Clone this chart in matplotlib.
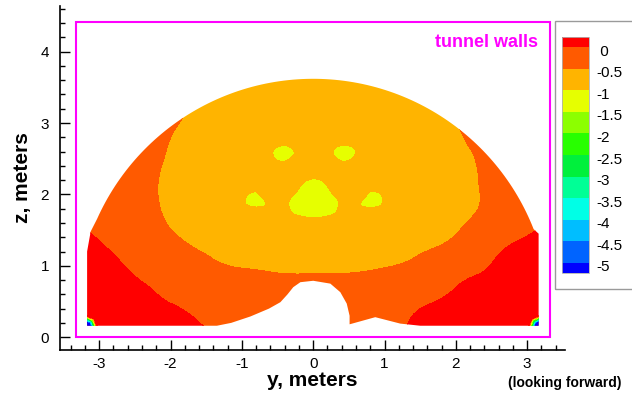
import numpy as np
import matplotlib
matplotlib.use("Agg")
import matplotlib.pyplot as plt
import matplotlib.tri as mtri
from matplotlib.patches import Polygon, Rectangle
from matplotlib.ticker import MultipleLocator
from matplotlib.transforms import ScaledTranslation

plt.rcParams.update({
    "font.family": ["Liberation Sans", "DejaVu Sans"],
    "axes.unicode_minus": False,
    "font.size": 11,
})

Y_GRID = [-3.2, -2.8, -2.4, -2.0, -1.6, -1.2, -0.8, -0.4, 0.0, 0.4, 0.8, 1.2, 1.6, 2.0, 2.4, 2.8, 3.2]
Z_GRID = [0.1, 0.45, 0.75, 1.05, 1.35, 1.65, 1.95, 2.25, 2.55, 2.85, 3.15, 3.45, 3.75]
CP = [
    [0.30, 0.25, 0.20, 0.15, 0.05, -0.15, -0.22, -0.30, -0.30, -0.30, -0.25, -0.05, 0.12, 0.18, 0.22, 0.25, 0.30],
    [0.21, 0.15, 0.09, 0.01, -0.08, -0.17, -0.22, -0.30, -0.35, -0.30, -0.22, -0.12, 0.00, 0.06, 0.10, 0.14, 0.17],
    [0.12, 0.06, 0.01, -0.12, -0.22, -0.30, -0.37, -0.41, -0.42, -0.41, -0.37, -0.30, -0.20, -0.02, 0.05, 0.10, 0.14],
    [0.05, 0.03, -0.13, -0.29, -0.41, -0.53, -0.57, -0.61, -0.62, -0.61, -0.58, -0.52, -0.40, -0.22, -0.04, 0.07, 0.12],
    [0.06, -0.08, -0.29, -0.44, -0.56, -0.65, -0.73, -0.79, -0.81, -0.79, -0.74, -0.67, -0.58, -0.45, -0.20, -0.02, 0.08],
    [-0.05, -0.22, -0.38, -0.53, -0.65, -0.77, -0.86, -0.90, -0.97, -0.91, -0.87, -0.79, -0.68, -0.57, -0.42, -0.25, -0.05],
    [-0.10, -0.25, -0.42, -0.56, -0.69, -0.82, -1.03, -0.92, -1.30, -0.93, -1.03, -0.85, -0.73, -0.61, -0.48, -0.33, -0.20],
    [-0.10, -0.25, -0.41, -0.56, -0.69, -0.81, -0.92, -0.90, -0.96, -0.91, -0.92, -0.84, -0.72, -0.60, -0.47, -0.32, -0.20],
    [-0.10, -0.25, -0.38, -0.53, -0.66, -0.78, -0.88, -1.03, -0.92, -1.03, -0.88, -0.80, -0.69, -0.57, -0.45, -0.30, -0.20],
    [-0.10, -0.25, -0.34, -0.49, -0.61, -0.72, -0.81, -0.88, -0.90, -0.88, -0.82, -0.73, -0.64, -0.53, -0.40, -0.30, -0.20],
    [-0.10, -0.25, -0.33, -0.42, -0.57, -0.64, -0.72, -0.77, -0.79, -0.78, -0.73, -0.66, -0.57, -0.47, -0.38, -0.30, -0.20],
    [-0.10, -0.25, -0.33, -0.40, -0.46, -0.56, -0.62, -0.67, -0.68, -0.67, -0.63, -0.57, -0.49, -0.43, -0.38, -0.30, -0.20],
    [-0.10, -0.25, -0.33, -0.40, -0.45, -0.50, -0.52, -0.56, -0.57, -0.56, -0.53, -0.50, -0.45, -0.43, -0.38, -0.30, -0.20],
]
# the two little singular spots in the floor corners (centre + surrounding ring)
LSPOT_Y = [-3.17, -3.03, -3.07, -3.17, -3.27, -3.27]
RSPOT_Y = [3.16, 3.02, 3.06, 3.16, 3.26, 3.26]
SPOT_Z = [0.16, 0.16, 0.26, 0.30, 0.26, 0.06]
SPOT_CP = [-9.0, 0.2, 0.2, 0.2, 0.2, 0.2]

LEVELS = [-5, -4.5, -4, -3.5, -3, -2.5, -2, -1.5, -1, -0.5, 0]
LEVEL_LABELS = ["-5", "-4.5", "-4", "-3.5", "-3", "-2.5", "-2", "-1.5", "-1", "-0.5", " 0"]
# low -> high, first is "under", last is "over"
COLORS = ["#0000FF", "#0064FF", "#00BEFF", "#00FFE6", "#00FF96", "#00F03C",
          "#28FF00", "#8CFF00", "#E6FF00", "#FFB400", "#FF5A00", "#FF0000"]

# ---- measurement plane outline ----
FLOOR = [(-3.17, 0.16), (-1.35, 0.16), (-1.15, 0.20), (-0.88, 0.29), (-0.62, 0.40),
         (-0.46, 0.49), (-0.36, 0.60), (-0.28, 0.70), (-0.18, 0.77), (0.0, 0.79),
         (0.24, 0.75), (0.38, 0.63), (0.47, 0.47), (0.51, 0.30), (0.51, 0.18),
         (0.87, 0.28), (1.22, 0.19), (1.5, 0.16), (3.16, 0.16), (3.16, 1.45)]
ARC_C, ARC_R = (0.0, 0.30), 3.32
LEFT_WALL = [(-3.12, 1.48), (-3.17, 1.2)]
TUNNEL = (-3.32, 0.0, 6.64, 4.42)   # x, z, width, height


def flood(ax, triang, values, clip):
    cs = ax.tricontourf(triang, values, levels=LEVELS, colors=COLORS[1:-1], extend="both")
    cs.cmap.set_under(COLORS[0])
    cs.cmap.set_over(COLORS[-1])
    cs.changed()
    cs.set_clip_path(clip)
    return cs


fig = plt.figure(figsize=(6.32, 3.94), dpi=100)
ax = fig.add_axes([60 / 632, 1 - 350 / 394, 505 / 632, 344 / 394])

th = np.linspace(np.arccos(3.09 / ARC_R), np.arccos(-3.03 / ARC_R), 120)
arc = list(zip(ARC_C[0] + ARC_R * np.cos(th), ARC_C[1] + ARC_R * np.sin(th)))
outline = Polygon(FLOOR + arc + LEFT_WALL, closed=True, transform=ax.transData)

yy, zz = np.meshgrid(Y_GRID, Z_GRID)
tri = mtri.Triangulation(yy.ravel(), zz.ravel())
fine_tri, fine_cp = mtri.UniformTriRefiner(tri).refine_field(np.array(CP).ravel(), subdiv=3)
cs = flood(ax, fine_tri, fine_cp, outline)
for spot_y in (LSPOT_Y, RSPOT_Y):
    flood(ax, mtri.Triangulation(spot_y, SPOT_Z), SPOT_CP, outline)

ax.add_patch(Rectangle(TUNNEL[:2], TUNNEL[2], TUNNEL[3], fill=False,
                       ec="#FF00FF", lw=1.5, zorder=3))
ax.text(3.15, 4.13, "tunnel walls", color="#FF00FF", fontsize=13,
        fontweight="bold", ha="right", va="center")

ax.set_xlim(-3.55, 3.53)
ax.set_ylim(-0.18, 4.64)
ax.xaxis.set_major_locator(MultipleLocator(1))
ax.xaxis.set_minor_locator(MultipleLocator(0.2))
ax.yaxis.set_major_locator(MultipleLocator(1))
ax.yaxis.set_minor_locator(MultipleLocator(0.2))
ax.tick_params(which="both", direction="in", top=False, right=False, width=1)
ax.tick_params(which="major", length=7, labelsize=11)
ax.tick_params(axis="x", which="major", pad=5)
ax.tick_params(axis="y", which="major", pad=8)
ax.tick_params(which="minor", length=3.5)
for s in ("top", "right"):
    ax.spines[s].set_visible(False)
for s in ("left", "bottom"):
    ax.spines[s].set_linewidth(1.2)

ax.set_xlabel("y, meters", fontsize=15, fontweight="bold")
ax.set_ylabel("z, meters", fontsize=15, fontweight="bold")
ax.xaxis.set_label_coords(0.499, -0.06)
ax.yaxis.set_label_coords(-0.055, 0.5)
fig.text(621 / 632, 1 - 383 / 394, "(looking forward)", fontsize=10,
         fontweight="bold", ha="right", va="center")

# legend box + bar
fig.patches.append(Rectangle((555 / 632, 1 - 289 / 394), 0.2, 268 / 394, fill=False,
                             ec="#9a9a9a", lw=1, transform=fig.transFigure))
cax = fig.add_axes([562 / 632, 1 - 273.3 / 394, 27 / 632, 236.6 / 394])
cb = fig.colorbar(cs, cax=cax, ticks=LEVELS, extendrect=True, extendfrac=0.05)
cb.ax.set_yticklabels(LEVEL_LABELS)
cb.ax.tick_params(length=0, pad=5, labelsize=11)
shift = ScaledTranslation(0, -0.03, fig.dpi_scale_trans)
for lbl in cb.ax.get_yticklabels():
    lbl.set_transform(lbl.get_transform() + shift)
cb.outline.set_edgecolor("#b0b0b0")
cb.outline.set_linewidth(0.6)

fig.savefig("out.png", dpi=100)
